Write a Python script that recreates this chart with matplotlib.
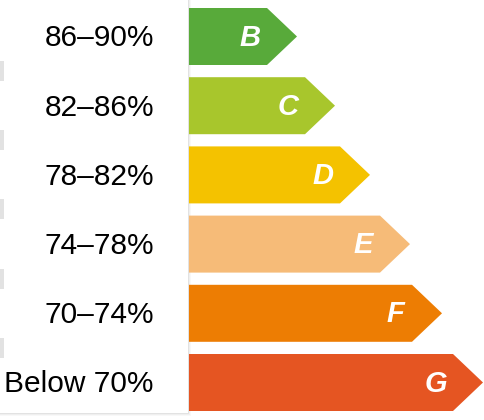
import matplotlib.pyplot as plt
from matplotlib.patches import Polygon, Rectangle

# energy classes, top to bottom
letters = ["B", "C", "D", "E", "F", "G"]
ranges = ["86\u201390%", "82\u201386%", "78\u201382%", "74\u201378%", "70\u201374%", "Below 70%"]
arrow_len = [108, 146, 181, 221, 253, 294]
colors = ["#58aa3a", "#a8c62c", "#f4c200", "#f6bb78", "#ed7d03", "#e55522"]

x0 = 189
row_h = 57
row_step = 69.2
top0 = 8
tip_w = 30

fig = plt.figure(figsize=(4.85, 4.2), dpi=100)
ax = fig.add_axes([0, 0, 1, 1])
ax.set_xlim(0, 485)
ax.set_ylim(420, 0)
ax.axis("off")

# label panel with a soft shadow
for i, a in enumerate([0.05, 0.08, 0.12]):
    d = 3 - i
    ax.add_patch(Rectangle((0, -5), 188 + d, 418 + d, facecolor="#888888",
                           alpha=a, edgecolor="none", zorder=1))
ax.add_patch(Rectangle((0, -5), 188, 418, facecolor="white", edgecolor="none", zorder=2))

for i, (lt, rg, ln, c) in enumerate(zip(letters, ranges, arrow_len, colors)):
    top = top0 + i * row_step
    bot = top + row_h
    mid = (top + bot) / 2
    tip = x0 + ln
    pts = [(x0, top), (tip - tip_w, top), (tip, mid), (tip - tip_w, bot), (x0, bot)]
    ax.add_patch(Polygon(pts, closed=True, facecolor=c, edgecolor="none", zorder=3))
    ax.text(tip - 47, mid + 1, lt, color="white", fontsize=21, fontweight="bold",
            fontstyle="italic", family="Liberation Sans", ha="center", va="center", zorder=4)
    ax.text(154, mid + 2, rg, color="black", fontsize=21.5, family="Liberation Sans",
            ha="right", va="center", zorder=4)
    # faint separators at the left edge
    if i < len(letters) - 1:
        sep = bot + 6
        ax.add_patch(Rectangle((0, sep - 10), 4, 20, facecolor="#e2e2e2",
                               edgecolor="none", zorder=4))

fig.savefig("out.png", dpi=100)
